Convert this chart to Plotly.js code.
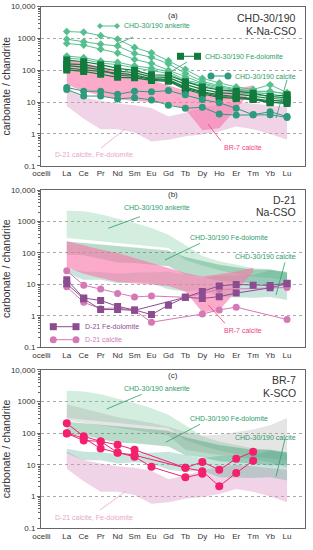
<!DOCTYPE html>
<html><head><meta charset="utf-8">
<script src="https://cdn.plot.ly/plotly-3.0.1.min.js"></script>
<style>html,body{margin:0;padding:0;background:#fff}</style>
</head><body><div id="chart" style="width:313px;height:550px"></div>
<script>
// ---- categories ----
const ELEMENTS = ['La','Ce','Pr','Nd','Sm','Eu','Gd','Tb','Dy','Ho','Er','Tm','Yb','Lu'];
const OCELLI_LABEL = 'ocelli';
const Y_TICKS = [0.1, 1, 10, 100, 1000, 10000];
const Y_TICK_TEXT = ['0.1', '1', '10', '100', '1000', '10,000'];

// ---- (a) CHD-30/190 ankerite ----
const chdAnk1 = [1650,1580,1230,950,520,355,200,107,56,40,30,25,35,20];
const chdAnk2 = [950,790,660,580,340,255,160,80,45,33,26,22,22,18];
const chdAnk3 = [700,620,460,350,220,165,100,62,40,30,24,20,18,15];
const chdAnk4 = [280,250,195,178,138,117,91,49,38,27,24,21,21,18.5];
const chdAnk5 = [240,220,170,150,120,100,80,45,33,25,20,17,15,14];
// ---- CHD-30/190 Fe-dolomite ----
const chdFeDol1 = [210,186,150,115,100,72,70,44,30,24,22,19,15,17];
const chdFeDol2 = [160,150,120,95,85,62,60,36,25,20,18,15,13,14];
const chdFeDol3 = [140,125,105,70,65,52,48,27,20,15,14,12.5,10,9];
const chdFeDol4 = [118,105,95,80,72,55,52,30,21,17,15,13,11,12];
const chdFeDol5 = [103,92,75,60,58,48,45,25,18,14,13,12,9.5,10.5];
// ---- CHD-30/190 calcite ----
const chdCal1 = [29,22,22,17.6,22,21,23,17,12,9.5,6.4,4,5,3.5];
const chdCal2 = [25,15.5,15.5,12.6,13.8,11.7,8,6.4,6.9,4.2,3.9,4,4,3.3];

// ---- (b) D-21 ----
const d21FeDol1 = [14,3.7,3.1,2.0,1.55,1.1,2.2,3.9,6.0,9.0,10,9.5,9.3,11];
const d21FeDol2 = [10.5,3.5,1.6,1.6,1.5,null,null,3.9,3.6,4.1,5.3,null,7.8,10.5];
const d21Cal1 = [27,9.5,7.1,5.2,4.0,4.3,null,3.9,null,6.9,null,null,null,8.0];
const d21Cal2 = [8.5,2.7,1.7,1.8,1.5,0.63,null,null,1.15,1.55,1.9,null,null,0.77];

// ---- (c) BR-7 calcite ----
const br7Cal1 = [205,80,55,43,30,null,null,8,12.3,7,15.4,26,null,null];
const br7Cal2 = [100,70,33,24,20,null,null,8,6.3,2.1,5.5,13.4,null,null];
const br7Cal3 = [98,59,55,24.5,18,8.6,null,4,5.2,null,null,null,null,null];

// ---- envelopes (fields) ----
const fieldAnkHi = [2200,2100,1700,1250,900,620,380,180,80,55,43,33,30,22];
const fieldAnkLo = [300,270,240,210,185,165,145,60,40,28,22,18,16,14];
const fieldFeDolHi = [230,210,185,165,150,135,120,75,55,42,35,30,30,25];
const fieldFeDolLo = [90,85,65,50,48,42,38,20,17,13,12,11,9.5,10];
const fieldCalHi = [32,26,25,22,24,24,26,20,16,19,19,20,28,25];
const fieldCalLo = [23,14,14,11,12,11,7,6,6.5,4,3.8,3.8,4,3.2];
const fieldOtherHi = [830,600,420,320,260,210,160,110,85,90,110,130,180,300];
const fieldOtherLo = [250,210,175,150,125,105,85,30,25,20,18,15,12,8];
const fieldD21Hi = [26,14,11,9,8,6.5,3.5,4.6,6.6,8.5,10,9,8,7];
const fieldD21Lo = [7.5,3,1.4,1.4,1.1,0.58,0.65,0.85,0.96,1.2,1.7,1.4,1.0,0.65];
const fieldBr7Hi = [235,170,130,100,70,48,34,23,18,21,26,34];
const fieldBr7Lo = [35,22,16,12,11,10,9,6,1.3,1.5,6,25];

// ---------------------------------------------------
const XPOS = ELEMENTS.map((_, i) => i + 1);
const COL = {
  ank: '#55c08e', feDol: '#137a3e', cal: '#2e9a7e',
  d21FeDol: '#8c4c90', d21Cal: '#d678b6', br7: '#f2206e'
};
function poly(hi, lo, xa, ya, fill) {
  const xs = XPOS.slice(0, hi.length);
  return {x: xs.concat(xs.slice().reverse()), y: hi.concat(lo.slice().reverse()),
    xaxis: xa, yaxis: ya, mode: 'lines', fill: 'toself', fillcolor: fill,
    line: {width: 0}, hoverinfo: 'skip', type: 'scatter'};
}
function series(vals, xa, ya, color, symbol, size, lw) {
  return {x: XPOS, y: vals, xaxis: xa, yaxis: ya, type: 'scatter', mode: 'lines+markers',
    connectgaps: true, line: {color: color, width: lw || 1},
    marker: {color: color, symbol: symbol, size: size}};
}
const FILL = {
  ank: 'rgba(110,195,150,0.30)', feDol: 'rgba(40,145,95,0.33)', cal: 'rgba(70,170,140,0.30)',
  other: 'rgba(150,150,150,0.25)', d21: 'rgba(220,150,195,0.42)', br7: 'rgba(248,120,168,0.62)'
};

const traces = [];
// panel a
traces.push(poly(fieldD21Hi, fieldD21Lo, 'x', 'y', FILL.d21));
traces.push(poly(fieldBr7Hi, fieldBr7Lo, 'x', 'y', FILL.br7));
[chdAnk1, chdAnk2, chdAnk3, chdAnk4, chdAnk5].forEach(v => traces.push(series(v, 'x', 'y', COL.ank, 'diamond', 6, 1)));
[chdFeDol1, chdFeDol2, chdFeDol3, chdFeDol4, chdFeDol5].forEach(v => traces.push(series(v, 'x', 'y', COL.feDol, 'square', 7, 1.2)));
[chdCal1, chdCal2].forEach(v => traces.push(series(v, 'x', 'y', COL.cal, 'circle', 7, 1)));
// panel b
traces.push(poly(fieldAnkHi, fieldAnkLo, 'x2', 'y2', FILL.ank));
traces.push(poly(fieldFeDolHi, fieldFeDolLo, 'x2', 'y2', FILL.feDol));
traces.push(poly(fieldCalHi, fieldCalLo, 'x2', 'y2', FILL.cal));
traces.push(poly(fieldBr7Hi, fieldBr7Lo, 'x2', 'y2', FILL.br7));
[d21Cal1, d21Cal2].forEach(v => traces.push(series(v, 'x2', 'y2', COL.d21Cal, 'circle', 7, 1)));
[d21FeDol1, d21FeDol2].forEach(v => traces.push(series(v, 'x2', 'y2', COL.d21FeDol, 'square', 7, 1)));
// panel c
traces.push(poly(fieldD21Hi, fieldD21Lo, 'x3', 'y3', FILL.d21));
traces.push(poly(fieldAnkHi, fieldAnkLo, 'x3', 'y3', FILL.ank));
traces.push(poly(fieldOtherHi, fieldOtherLo, 'x3', 'y3', FILL.other));
traces.push(poly(fieldFeDolHi, fieldFeDolLo, 'x3', 'y3', FILL.feDol));
traces.push(poly(fieldCalHi, fieldCalLo, 'x3', 'y3', FILL.cal));
[br7Cal1, br7Cal2, br7Cal3].forEach(v => traces.push(series(v, 'x3', 'y3', COL.br7, 'circle', 8, 1)));

// ---- layout ----
const L = 41, T = 6, PW = 264, PH = 522;
const px = x => (x - L) / PW;
const py = y => 1 - (y - T) / PH;
const minorVals = [];
for (let d = -1; d < 4; d++) for (let k = 2; k < 10; k++) minorVals.push(k * Math.pow(10, d));

function xAxis(anchor) {
  return {anchor: anchor, domain: [0, 1], range: [-0.52, 15.06],
    tickvals: [-0.5].concat(XPOS), ticktext: [OCELLI_LABEL].concat(ELEMENTS),
    showgrid: false, zeroline: false, showline: true, mirror: true, linecolor: '#666', linewidth: 1,
    ticks: '', tickfont: {size: 8, color: '#333'}};
}
function yAxis(anchor, domain) {
  return {anchor: anchor, domain: domain, type: 'log', range: [-1, 4],
    tickvals: Y_TICKS, ticktext: Y_TICK_TEXT, showgrid: true, gridcolor: '#aaa', griddash: 'dot', gridwidth: 1,
    showline: true, mirror: true, linecolor: '#666', linewidth: 1,
    ticks: 'outside', ticklen: 3, tickcolor: '#666', tickfont: {size: 8, color: '#333'},
    minor: {tickvals: minorVals, ticks: 'outside', ticklen: 2, tickcolor: '#666', showgrid: false},
    title: {text: 'carbonate / chandrite', font: {size: 10.5, color: '#333'}, standoff: 2}};
}

const shapes = [], annotations = [];
function seg(x0, y0, x1, y1, color, w) {
  shapes.push({type: 'line', xref: 'paper', yref: 'paper', x0: px(x0), y0: py(y0), x1: px(x1), y1: py(y1),
    line: {color: color, width: w || 0.8}});
}
function symbol(kind, cx, cy, s, color) {
  const hx = s / 2 / PW, hy = s / 2 / PH, X0 = px(cx), Y0 = py(cy);
  if (kind === 'square') shapes.push({type: 'rect', xref: 'paper', yref: 'paper', x0: X0 - hx, x1: X0 + hx, y0: Y0 - hy, y1: Y0 + hy, fillcolor: color, line: {width: 0}});
  else if (kind === 'circle') shapes.push({type: 'circle', xref: 'paper', yref: 'paper', x0: X0 - hx, x1: X0 + hx, y0: Y0 - hy, y1: Y0 + hy, fillcolor: color, line: {width: 0}});
  else shapes.push({type: 'path', xref: 'paper', yref: 'paper', path: `M ${X0} ${Y0 + hy} L ${X0 + hx} ${Y0} L ${X0} ${Y0 - hy} L ${X0 - hx} ${Y0} Z`, fillcolor: color, line: {width: 0}});
}
function keyItem(kind, x0, x1, y, color, size) {
  seg(x0, y, x1, y, color, 1);
  symbol(kind, x0, y, size, color);
  symbol(kind, x1, y, size, color);
}
function text(t, x, y, anchor, size, color) {
  annotations.push({text: t, xref: 'paper', yref: 'paper', x: px(x), y: py(y), xanchor: anchor, yanchor: 'middle',
    showarrow: false, font: {size: size, color: color}});
}
const GREEN_TXT = '#2c9d68', PINK_TXT = '#ef3f80', D21_TXT = '#e9a5cc';

// panel a
text('(a)', 173, 15, 'center', 8, '#333');
text('CHD-30/190', 298, 18, 'right', 10.5, '#333');
text('K-Na-CSO', 298, 31, 'right', 10.5, '#333');
keyItem('diamond', 100, 117, 26, COL.ank, 6);
text('CHD-30/190 ankerite', 122, 26, 'left', 7, GREEN_TXT);
seg(117, 44, 133, 37, GREEN_TXT);
keyItem('square', 180.5, 197.5, 56.3, COL.feDol, 7);
text('CHD-30/190 Fe-dolomite', 203, 56.3, 'left', 7, GREEN_TXT);
seg(187, 62, 172, 71, GREEN_TXT);
keyItem('circle', 211, 228, 76, COL.cal, 7);
text('CHD-30/190 calcite', 233, 76, 'left', 7, GREEN_TXT);
seg(287, 80, 276, 118, GREEN_TXT);
text('BR-7 calcite', 243, 147.7, 'center', 7, PINK_TXT);
seg(208, 124, 221, 141, PINK_TXT);
text('D-21 calcite, Fe-dolomite', 53, 155, 'left', 7, D21_TXT);
seg(101, 148, 125, 129, D21_TXT);

// panel b
text('(b)', 173, 195, 'center', 8, '#333');
text('D-21', 298, 200, 'right', 10.5, '#333');
text('Na-CSO', 298, 211.5, 'right', 10.5, '#333');
text('CHD-30/190 ankerite', 121.7, 207.7, 'left', 7, GREEN_TXT);
seg(108.3, 228.3, 140, 216.7, GREEN_TXT);
text('CHD-30/190 Fe-dolomite', 188, 237.3, 'left', 7, GREEN_TXT);
seg(165, 260, 200, 243.3, GREEN_TXT);
text('CHD-30/190 calcite', 233, 256.7, 'left', 7, GREEN_TXT);
seg(285, 262.3, 276, 295, GREEN_TXT);
text('BR-7 calcite', 243, 330, 'center', 7, PINK_TXT);
seg(208.3, 305, 225, 323.3, PINK_TXT);
keyItem('square', 53.3, 76, 326.7, COL.d21FeDol, 7);
text('D-21 Fe-dolomite', 83.3, 326.7, 'left', 7, COL.d21FeDol);
keyItem('circle', 53.3, 76, 339.7, COL.d21Cal, 7);
text('D-21 calcite', 83.3, 339.7, 'left', 7, COL.d21Cal);

// panel c
text('(c)', 173, 375.7, 'center', 8, '#333');
text('BR-7', 298, 380, 'right', 10.5, '#333');
text('K-SCO', 298, 392.7, 'right', 10.5, '#333');
text('CHD-30/190 ankerite', 122, 388.3, 'left', 7, GREEN_TXT);
seg(106.7, 409, 141.7, 394.3, GREEN_TXT);
text('CHD-30/190 Fe-dolomite', 188, 418, 'left', 7, GREEN_TXT);
seg(165.7, 442.3, 200, 424.3, GREEN_TXT);
text('CHD-30/190 calcite', 233, 437.7, 'left', 7, GREEN_TXT);
seg(285, 439, 276, 476.7, GREEN_TXT);
text('D-21 calcite, Fe-dolomite', 53, 517.3, 'left', 7, D21_TXT);
seg(100, 510, 126, 491, D21_TXT);

const layout = {
  width: 313, height: 550, margin: {l: L, r: 8, t: T, b: 22},
  paper_bgcolor: '#fff', plot_bgcolor: '#fff', showlegend: false,
  font: {family: '"Liberation Sans", Arial, sans-serif', size: 8, color: '#333'},
  xaxis: xAxis('y'), yaxis: yAxis('x', [0.694, 0.9987]),
  xaxis2: xAxis('y2'), yaxis2: yAxis('x2', [0.346, 0.6475]),
  xaxis3: xAxis('y3'), yaxis3: yAxis('x3', [0, 0.3027]),
  shapes: shapes, annotations: annotations
};
Plotly.newPlot('chart', traces, layout, {displayModeBar: false, staticPlot: true});
</script></body></html>
